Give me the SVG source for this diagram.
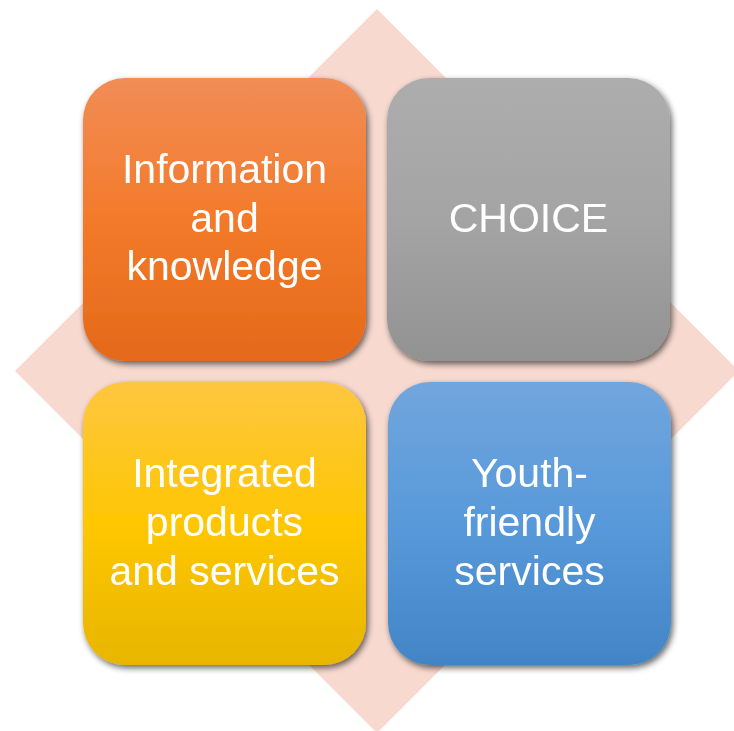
<svg xmlns="http://www.w3.org/2000/svg" width="734" height="731" viewBox="0 0 734 731">
  <style>
    .lbl { font-family: "Liberation Sans", Arial, sans-serif; font-size: 41px; fill: #ffffff; text-anchor: middle; }
    .box { filter: url(#shadow); }
  </style>
  <defs>
    <linearGradient id="gOrange" x1="0" y1="0" x2="0" y2="1">
      <stop offset="0" stop-color="#F18D56"/>
      <stop offset="0.5" stop-color="#F37A2A"/>
      <stop offset="1" stop-color="#E5691A"/>
    </linearGradient>
    <linearGradient id="gGray" x1="0" y1="0" x2="0" y2="1">
      <stop offset="0" stop-color="#ADADAD"/>
      <stop offset="0.5" stop-color="#A4A4A4"/>
      <stop offset="1" stop-color="#929292"/>
    </linearGradient>
    <linearGradient id="gYellow" x1="0" y1="0" x2="0" y2="1">
      <stop offset="0" stop-color="#FEC640"/>
      <stop offset="0.5" stop-color="#FEC702"/>
      <stop offset="1" stop-color="#E8B500"/>
    </linearGradient>
    <linearGradient id="gBlue" x1="0" y1="0" x2="0" y2="1">
      <stop offset="0" stop-color="#71A6DD"/>
      <stop offset="0.5" stop-color="#5899DA"/>
      <stop offset="1" stop-color="#4285C6"/>
    </linearGradient>
    <filter id="shadow" x="-10%" y="-10%" width="125%" height="125%">
      <feGaussianBlur in="SourceAlpha" stdDeviation="3"/>
      <feOffset dx="2" dy="3" result="b"/>
      <feComponentTransfer><feFuncA type="linear" slope="0.6"/></feComponentTransfer>
      <feMerge><feMergeNode/><feMergeNode in="SourceGraphic"/></feMerge>
    </filter>
  </defs>

  <polygon id="diamond" points="377,9 739,371 377,733 15,371" fill="#F7D9CF"/>

  <g id="node-information" class="box">
    <rect x="83" y="78" width="283" height="283" rx="42" ry="42" fill="url(#gOrange)"/>
    <text class="lbl" x="224.5" y="183">Information</text>
    <text class="lbl" x="224.5" y="232">and</text>
    <text class="lbl" x="224.5" y="280">knowledge</text>
  </g>

  <g id="node-choice" class="box">
    <rect x="387" y="78" width="283" height="283" rx="42" ry="42" fill="url(#gGray)"/>
    <text class="lbl" x="528.5" y="232">CHOICE</text>
  </g>

  <g id="node-integrated" class="box">
    <rect x="83" y="382" width="283" height="283" rx="42" ry="42" fill="url(#gYellow)"/>
    <text class="lbl" x="224.5" y="487">Integrated</text>
    <text class="lbl" x="224.5" y="536">products</text>
    <text class="lbl" x="224.5" y="585">and services</text>
  </g>

  <g id="node-youth" class="box">
    <rect x="388" y="382" width="283" height="283" rx="42" ry="42" fill="url(#gBlue)"/>
    <text class="lbl" x="529.5" y="487">Youth-</text>
    <text class="lbl" x="529.5" y="536">friendly</text>
    <text class="lbl" x="529.5" y="585">services</text>
  </g>

  <g id="connectors"/>
</svg>
